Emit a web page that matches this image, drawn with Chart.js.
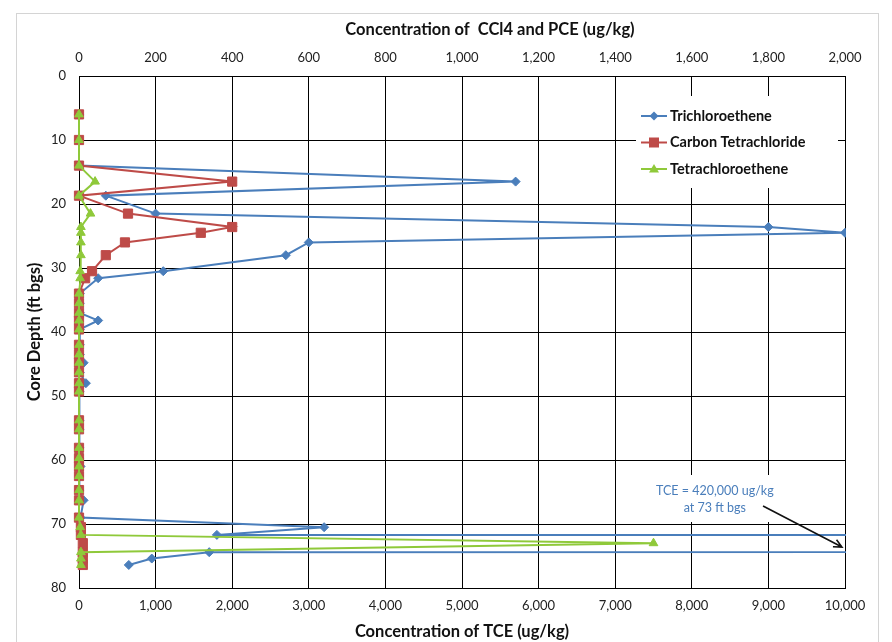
<!DOCTYPE html>
<html>
<head>
<meta charset="utf-8">
<script src="https://cdn.jsdelivr.net/npm/chart.js@4.4.1/dist/chart.umd.min.js"></script>
<style>
  html, body { margin: 0; padding: 0; background: #fff; }
  #chart { display: block; }
</style>
</head>
<body>
<canvas id="chart" width="892" height="642"></canvas>
<script>
// sample depths (ft bgs) and concentrations
const depths = [6, 10, 14, 16.5, 18.7, 21.5, 23.6, 24.5, 26, 28, 30.5, 31.6, 34, 35.5, 37, 38.2, 39.6, 42, 43.5, 44.8,
                46.3, 48, 49.3, 53.8, 55.2, 58.1, 59.7, 61, 62.5, 64.7, 66.3, 69, 70.5, 71.7, 73, 74.4, 75.4, 76.4];
const tce    = [0, 0, 0, 5700, 350, 1000, 9000, 10000, 3000, 2700, 1100, 250, 10, 10, 10, 250, 10, 10, 10, 60,
                10, 90, 5, 5, 5, 5, 5, 20, 5, 5, 60, 20, 3200, 1800, 420000, 1700, 950, 650];
const ccl4   = [0, 0, 0, 400, 0, 128, 400, 318, 120, 70, 34, 16, 0, 0, 0, 0, 0, 0, 0, 0,
                0, 0, 0, 0, 0, 0, 0, 0, 0, 0, 0, 0, 5, 5, 10, 10, 10, 10];
const pce    = [0, 0, 0, 42, 0, 30, 5, 5, 5, 5, 3, 3, 0, 0, 0, 0, 0, 0, 0, 0,
                0, 0, 0, 0, 0, 0, 0, 0, 0, 0, 0, 0, 3, 5, 1500, 5, 5, 5];

const seriesNames = ['Trichloroethene', 'Carbon Tetrachloride', 'Tetrachloroethene'];
const noteLines   = ['TCE = 420,000 ug/kg', 'at 73 ft bgs'];
const topTitle    = 'Concentration of  CCl4 and PCE (ug/kg)';

const BLUE  = '#4a7ebb';
const RED   = '#be4b48';
const GREEN = '#8fc93a';
const FONT  = 'Lato, "Open Sans", sans-serif';

const fmt = (v) => Number(v).toLocaleString('en-US');
const pts = (vals) => vals.map((v, i) => ({ x: v, y: depths[i] }));

function marker(ctx, style, x, y, color) {
    ctx.fillStyle = color;
    ctx.beginPath();
    if (style === 'rectRot') {
        ctx.moveTo(x, y - 4.5); ctx.lineTo(x + 4.5, y); ctx.lineTo(x, y + 4.5); ctx.lineTo(x - 4.5, y);
    } else if (style === 'rect') {
        ctx.rect(x - 5, y - 5, 10, 10);
    } else {
        ctx.moveTo(x, y - 5); ctx.lineTo(x + 5, y + 3.5); ctx.lineTo(x - 5, y + 3.5);
    }
    ctx.closePath();
    ctx.fill();
}

const framePlugin = {
    id: 'frame',
    beforeDraw(chart) {
        const ctx = chart.ctx;
        ctx.save();
        ctx.fillStyle = '#fff';
        ctx.fillRect(0, 0, chart.width, chart.height);
        ctx.strokeStyle = '#d4d4d4';
        ctx.lineWidth = 1;
        ctx.strokeRect(16.5, 13.5, 862, 700);
        ctx.restore();
    }
};

// legend box and the note's white backing sit over the grid, under the series
const legendPlugin = {
    id: 'legendBox',
    beforeDatasetsDraw(chart) {
        const { ctx, chartArea: a } = chart;
        const x0 = a.right - 209, y0 = a.top + 20;
        ctx.save();
        ctx.fillStyle = '#fff';
        ctx.fillRect(x0, y0, 202, 92);
        ctx.fillRect(a.right - 200, a.bottom - 113, 140, 47);
        chart.data.datasets.forEach((ds, i) => {
            const y = y0 + 20 + i * 26.5;
            ctx.strokeStyle = ds.borderColor;
            ctx.lineWidth = 2;
            ctx.beginPath();
            ctx.moveTo(x0 + 5, y);
            ctx.lineTo(x0 + 31, y);
            ctx.stroke();
            marker(ctx, ds.pointStyle, x0 + 18, y, ds.borderColor);
            ctx.fillStyle = '#111';
            ctx.font = 'bold 14.5px ' + FONT;
            ctx.textBaseline = 'middle';
            ctx.textAlign = 'left';
            ctx.fillText(ds.label, x0 + 34, y);
        });
        ctx.restore();
    }
};

const notePlugin = {
    id: 'note',
    afterDraw(chart) {
        const { ctx, chartArea: a } = chart;
        const xs = chart.scales.x, ys = chart.scales.y;
        ctx.save();
        // top axis title sits a bit right of centre in the original
        ctx.fillStyle = '#111';
        ctx.font = 'bold 16.5px ' + FONT;
        ctx.textAlign = 'center';
        ctx.textBaseline = 'middle';
        ctx.fillText(topTitle, (a.left + a.right) / 2 + 28, 30);

        ctx.fillStyle = BLUE;
        ctx.font = '12.5px ' + FONT;
        ctx.fillText(noteLines[0], xs.getPixelForValue(8300), ys.getPixelForValue(64.8));
        ctx.fillText(noteLines[1], xs.getPixelForValue(8300), ys.getPixelForValue(67.5));

        const x1 = xs.getPixelForValue(8930), y1 = ys.getPixelForValue(67.2);
        const x2 = xs.getPixelForValue(9960), y2 = ys.getPixelForValue(73.6);
        const ang = Math.atan2(y2 - y1, x2 - x1);
        ctx.strokeStyle = '#111';
        ctx.lineWidth = 1.6;
        ctx.beginPath();
        ctx.moveTo(x1, y1);
        ctx.lineTo(x2, y2);
        ctx.moveTo(x2 - 9 * Math.cos(ang - 0.45), y2 - 9 * Math.sin(ang - 0.45));
        ctx.lineTo(x2, y2);
        ctx.lineTo(x2 - 9 * Math.cos(ang + 0.45), y2 - 9 * Math.sin(ang + 0.45));
        ctx.stroke();
        ctx.restore();
    }
};

const lineSet = (label, data, color, style, radius, axis, order) => ({
    label, data: pts(data), xAxisID: axis, order,
    clip: { left: 12, top: 12, bottom: 12, right: 1 },
    showLine: true, borderColor: color, backgroundColor: color, borderWidth: 2, tension: 0,
    pointStyle: style, pointRadius: radius, pointBorderColor: color, pointBackgroundColor: color,
    pointBorderWidth: 1
});

const tickFont = { family: FONT, size: 13 };
const titleFont = { family: FONT, size: 16.5, weight: 'bold' };

new Chart(document.getElementById('chart').getContext('2d'), {
    type: 'scatter',
    data: {
        datasets: [
            lineSet(seriesNames[0], tce,  BLUE,  'rectRot',  4.5, 'x',  2),
            lineSet(seriesNames[1], ccl4, RED,   'rect',     6.5, 'x2', 1),
            lineSet(seriesNames[2], pce,  GREEN, 'triangle', 5,   'x2', 0)
        ]
    },
    plugins: [framePlugin, legendPlugin, notePlugin],
    options: {
        responsive: false,
        animation: false,
        layout: { padding: { left: 0, right: 47, top: 0, bottom: 0 } },
        plugins: { legend: { display: false }, tooltip: { enabled: false } },
        scales: {
            x: {
                type: 'linear', position: 'bottom', min: 0, max: 10000,
                afterFit: (s) => { s.height = 54; },
                grid: { color: '#000', lineWidth: 1, drawTicks: false },
                border: { color: '#000' },
                ticks: { stepSize: 1000, padding: 10, color: '#222', font: tickFont, callback: fmt, maxRotation: 0 },
                title: { display: true, text: 'Concentration of TCE (ug/kg)', color: '#111', font: titleFont, padding: { top: 2, bottom: 0 } }
            },
            x2: {
                type: 'linear', position: 'top', min: 0, max: 2000,
                afterFit: (s) => { s.height = 76; },
                grid: { display: false, drawTicks: false },
                border: { display: false },
                ticks: { stepSize: 200, padding: 10, color: '#222', font: tickFont, callback: fmt, maxRotation: 0 },
                title: { display: false }
            },
            y: {
                type: 'linear', position: 'left', min: 0, max: 80, reverse: true,
                afterFit: (s) => { s.width = 79; },
                grid: { color: '#000', lineWidth: 1, drawTicks: false },
                border: { color: '#000' },
                ticks: { stepSize: 10, padding: 13, color: '#222', font: tickFont },
                title: { display: true, text: 'Core Depth (ft bgs)', color: '#111', font: titleFont, padding: { top: 25, bottom: 0 } }
            }
        }
    }
});
</script>
</body>
</html>
